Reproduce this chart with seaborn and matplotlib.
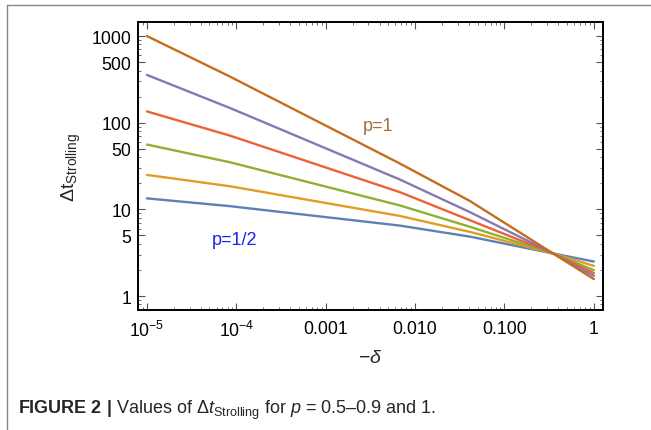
import numpy as np
import pandas as pd
import seaborn as sns
import matplotlib
matplotlib.use("Agg")
import matplotlib.pyplot as plt
from matplotlib import font_manager
from matplotlib.lines import Line2D
from matplotlib.ticker import LogLocator, NullFormatter, FixedLocator, FixedFormatter

# values (log-log)
delta = [1e-5, 8.47e-5, 0.00676, 0.041, 0.35, 1.0]
p_labels = ["0.5", "0.6", "0.7", "0.8", "0.9", "1"]
dt_p05 = [13.4, 10.9, 6.5, 4.85, 3.1, 2.5]
dt_p06 = [25, 18.5, 8.4, 5.5, 3.1, 2.23]
dt_p07 = [56, 35, 11.1, 6.3, 3.1, 1.99]
dt_p08 = [135, 71, 15.8, 7.5, 3.1, 1.84]
dt_p09 = [356, 148, 22.1, 9.3, 3.1, 1.71]
dt_p10 = [1000, 341, 33.8, 12.5, 3.1, 1.57]
colors = ["#5E81B5", "#E19C24", "#8FB131", "#EB6235", "#8778B3", "#C56E1A"]

xticks = [1e-5, 1e-4, 1e-3, 1e-2, 1e-1, 1]
xticklabels = [r"$\mathregular{10^{-5}}$", r"$\mathregular{10^{-4}}$", "0.001", "0.010", "0.100", "1"]
yticks = [1, 5, 10, 50, 100, 500, 1000]
yticklabels = ["1", "5", "10", "50", "100", "500", "1000"]

rows = []
for p, vals in zip(p_labels, [dt_p05, dt_p06, dt_p07, dt_p08, dt_p09, dt_p10]):
    for d, v in zip(delta, vals):
        rows.append({"delta": d, "dt": v, "p": p})
df = pd.DataFrame(rows)

sns.set_theme(style="ticks")
installed = {f.name for f in font_manager.fontManager.ttflist}
narrow = "Liberation Sans Narrow" if "Liberation Sans Narrow" in installed else "Liberation Sans"
plt.rcParams["font.family"] = ["Liberation Sans", "DejaVu Sans"]
plt.rcParams["mathtext.fontset"] = "custom"
plt.rcParams["mathtext.rm"] = "Liberation Sans"
plt.rcParams["mathtext.it"] = "Liberation Sans:italic"
plt.rcParams["mathtext.bf"] = narrow + ":bold"

fig = plt.figure(figsize=(6.51, 4.31), dpi=100)
ax = fig.add_axes([0.212, 0.2784, 0.714, 0.668])

sns.lineplot(data=df, x="delta", y="dt", hue="p", palette=colors, linewidth=1.7,
             legend=False, ax=ax)
ax.set_xscale("log")
ax.set_yscale("log")
ax.set_xlim(10**-5.1, 10**0.1)
ax.set_ylim(10**-0.161, 10**3.161)

ax.xaxis.set_major_locator(FixedLocator(xticks))
ax.xaxis.set_major_formatter(FixedFormatter(xticklabels))
ax.yaxis.set_major_locator(FixedLocator(yticks))
ax.yaxis.set_major_formatter(FixedFormatter(yticklabels))
ax.xaxis.set_minor_locator(LogLocator(base=10, subs=np.arange(2, 10) * 1.0, numticks=20))
ax.yaxis.set_minor_locator(LogLocator(base=10, subs=np.arange(2, 10) * 1.0, numticks=20))
ax.xaxis.set_minor_formatter(NullFormatter())
ax.yaxis.set_minor_formatter(NullFormatter())
ax.tick_params(which="both", direction="in", top=True, right=True, colors="#555555",
               labelcolor="black", labelsize=12.7)
ax.tick_params(which="major", length=5, width=0.8)
ax.tick_params(axis="x", which="major", pad=7)
ax.tick_params(axis="y", which="major", pad=5)
ax.tick_params(which="minor", length=2.5, width=0.6)
for s in ax.spines.values():
    s.set_linewidth(1.4)
    s.set_color("black")

ax.set_xlabel(r"$\mathregular{-}\it{δ}$", fontsize=14)
ax.set_ylabel(r"$\mathregular{Δt_{Strolling}}$", fontsize=14)
ax.xaxis.set_label_coords(0.5, -0.135)
ax.yaxis.set_label_coords(-0.118, 0.5)

ax.text(0.00384, 92, "p=1", color="#A0703A", fontsize=13, ha="center", va="center")
ax.text(9.6e-5, 4.5, "p=1/2", color="#2020F0", fontsize=13, ha="center", va="center")

# screenshot frame and caption
fig.add_artist(Line2D([0.0108, 0.0108], [0.0, 0.986], color="#888888", lw=1.0))
fig.add_artist(Line2D([0.0108, 1.0], [0.986, 0.986], color="#888888", lw=1.0))
fig.text(0.027, 1 - 410 / 431,
         r"$\mathbf{FIGURE\ 2\ |}$ Values of Δ$\it{t}_{\mathregular{Strolling}}$ for $\it{p}$ = 0.5–0.9 and 1.",
         fontsize=13, family=[narrow, "DejaVu Sans"], va="center", ha="left")

fig.savefig("out.png", dpi=100)
